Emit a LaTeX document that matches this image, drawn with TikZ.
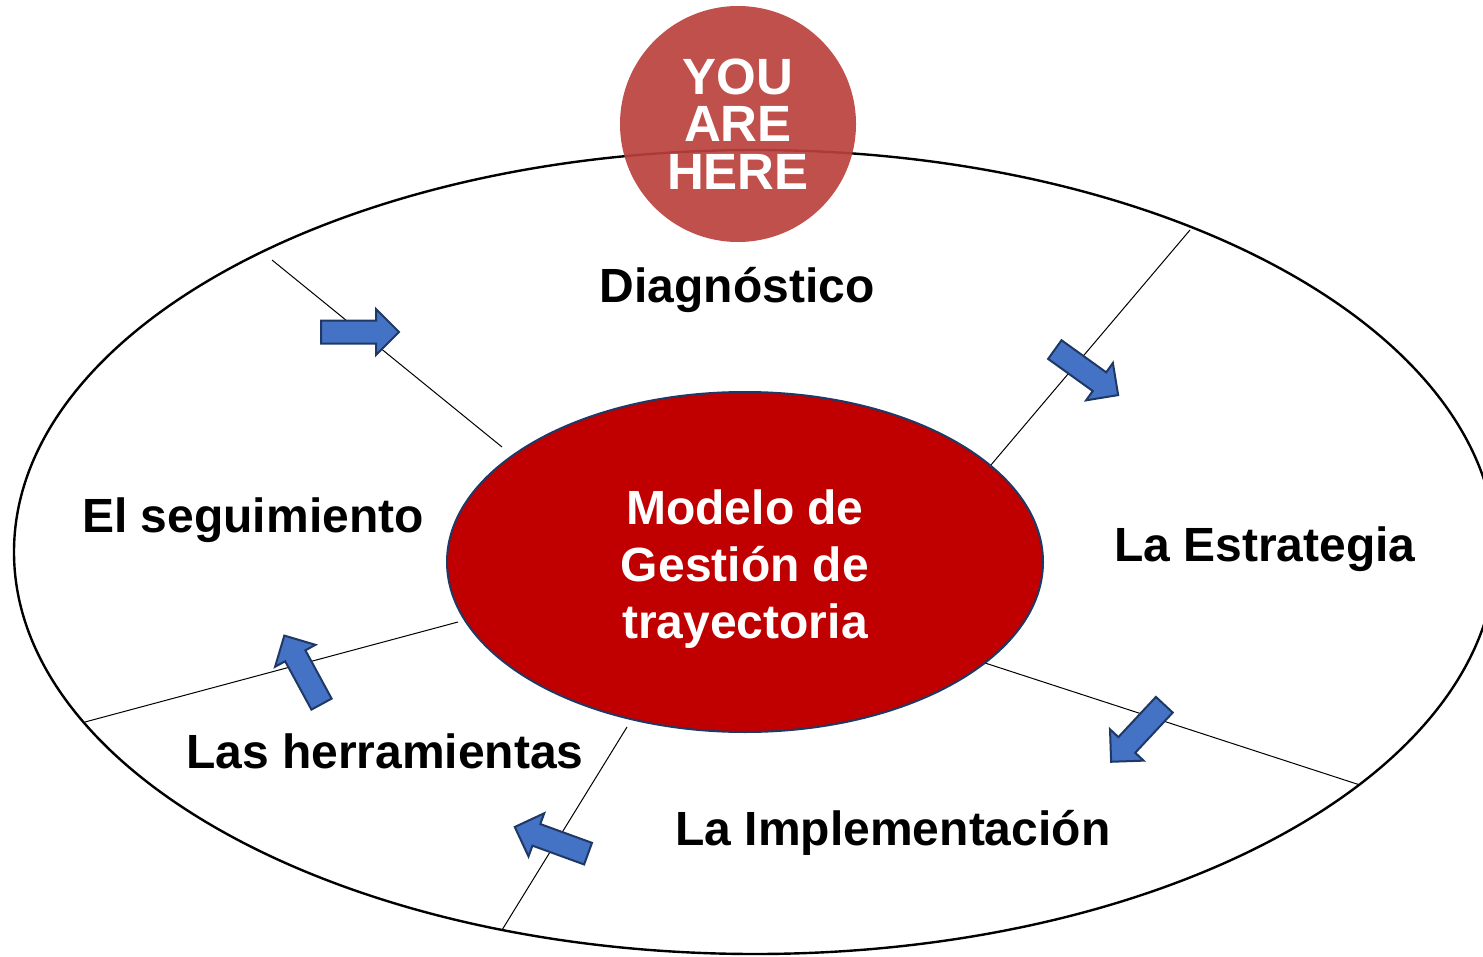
\documentclass[tikz,border=0pt]{standalone}
\usepackage{fontspec}
\setmainfont{Liberation Sans}
\usetikzlibrary{shapes.geometric,shapes.arrows}
\definecolor{deepred}{RGB}{192,0,0}
\definecolor{pinkred}{RGB}{186,65,61}
\definecolor{navy}{RGB}{31,56,100}
\definecolor{blockblue}{RGB}{68,114,196}
\tikzset{
  stage/.style={font=\fontsize{24}{28}\selectfont\bfseries, anchor=base},
  divider/.style={line width=0.5pt},
  flowarrow/.style={single arrow, draw=navy, fill=blockblue, line width=1pt,
    minimum height=39pt, minimum width=0pt, inner xsep=0pt, inner ysep=5.25pt,
    single arrow head extend=5.75pt, anchor=tail}
}
\begin{document}
\begin{tikzpicture}[x=0.5pt,y=-0.5pt]
  \useasboundingbox (0,0) rectangle (1483,957);
  \node[ellipse, draw, line width=1.2pt, minimum width=741pt, minimum height=402pt] (ring) at (755,552) {};
  \coordinate (d1a) at (272,260);  \coordinate (d1b) at (502,447);
  \coordinate (d2a) at (1190,230); \coordinate (d2b) at (985,472);
  \coordinate (d3a) at (985,663);  \coordinate (d3b) at (1360,785);
  \coordinate (d4a) at (627,727);  \coordinate (d4b) at (502,930);
  \coordinate (d5a) at (458,622);  \coordinate (d5b) at (85,722);
  \begin{scope}[divider]
    \draw (d1a) -- (d1b);
    \draw (d2a) -- (d2b);
    \draw (d3a) -- (d3b);
    \draw (d4a) -- (d4b);
    \draw (d5a) -- (d5b);
  \end{scope}
  \node[ellipse, draw=navy, line width=1pt, fill=deepred,
    minimum width=298pt, minimum height=170pt, inner sep=0pt] (model) at (745,562) {};
  \node[text=white, align=center, font=\fontsize{24}{28.5}\selectfont\bfseries]
    (modeltext) at ([yshift=-3.5pt]model.center) {Modelo de\\Gestión de\\trayectoria};
  \node[flowarrow] (a1) at (320,332) {};
  \node[flowarrow, rotate=-35.7] (a2) at (1054,349) {};
  \node[flowarrow, rotate=-133] (a3) at (1165,704) {};
  \node[flowarrow, rotate=160] (a4) at (589,854) {};
  \node[flowarrow, rotate=118.5] (a5) at (322,705) {};
  \node[circle, fill=pinkred, fill opacity=0.92, text opacity=1, text=white,
    minimum size=118pt, inner sep=0pt, align=center,
    font=\fontsize{25.5}{23.75}\selectfont\bfseries] (here) at (738,124) {YOU\\ARE\\HERE};
  \node[stage] (diag) at (737,303) {Diagnóstico};
  \node[stage] (estr) at (1265,561) {La Estrategia};
  \node[stage] (impl) at (893,845) {La Implementación};
  \node[stage] (herr) at (385,768) {Las herramientas};
  \node[stage] (segu) at (253,532) {El seguimiento};
\end{tikzpicture}
\end{document}
